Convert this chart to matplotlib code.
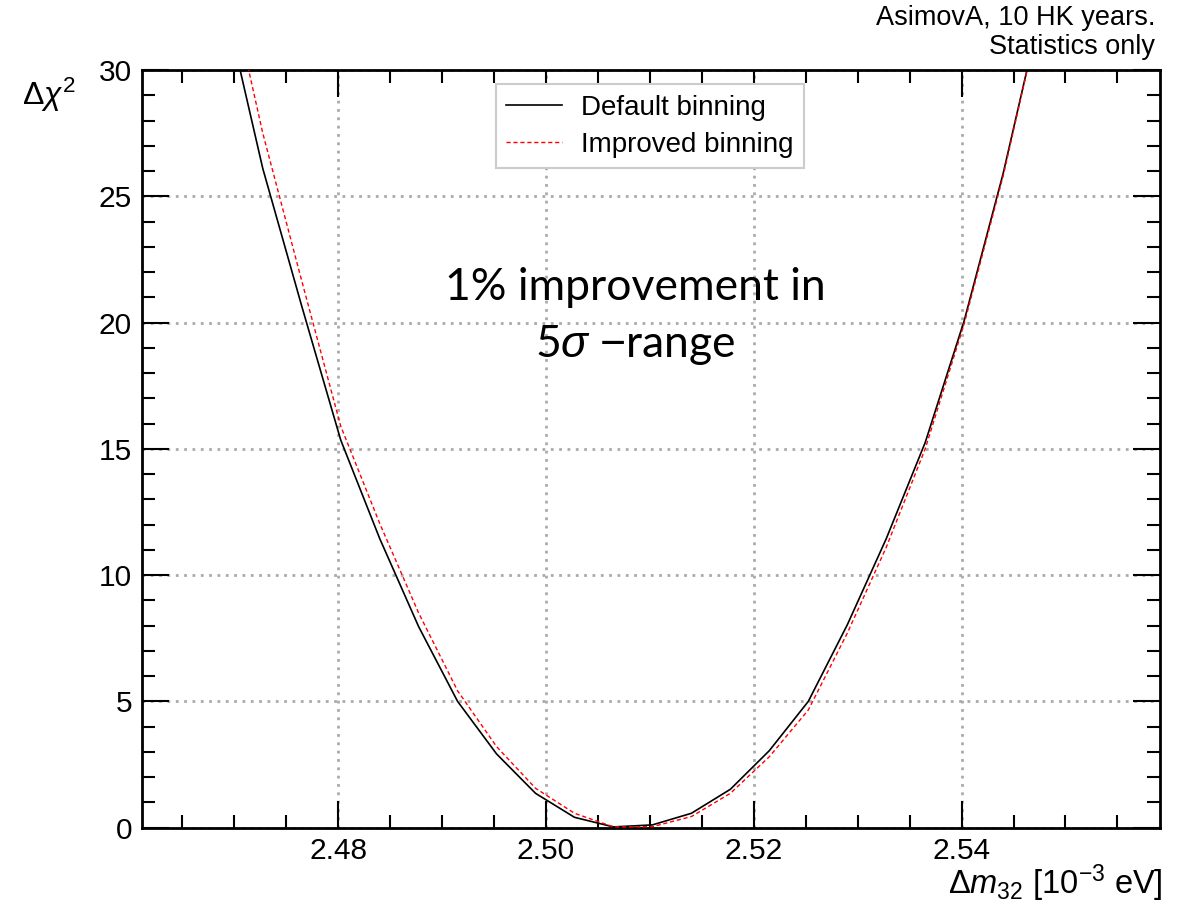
import matplotlib
matplotlib.use("Agg")
import matplotlib.pyplot as plt
from matplotlib.ticker import MultipleLocator

plt.rcParams["font.family"] = ["Liberation Sans", "DejaVu Sans"]
plt.rcParams["mathtext.fontset"] = "custom"
plt.rcParams["mathtext.rm"] = "Liberation Sans"
plt.rcParams["mathtext.it"] = "Liberation Sans:italic"

# scan points in dm32 [1e-3 eV]
dm32 = [2.46900, 2.47275, 2.47650, 2.48025, 2.48400, 2.48775, 2.49150,
        2.49525, 2.49900, 2.50275, 2.50650, 2.51025, 2.51400, 2.51775,
        2.52150, 2.52525, 2.52900, 2.53275, 2.53650, 2.54025, 2.54400,
        2.54775]

# delta chi2 for each binning
chi2_default = [32.8, 26.1, 20.65, 15.35, 11.45, 7.96, 5.0, 2.92, 1.36, 0.41,
                0.03, 0.11, 0.57, 1.52, 3.05, 5.0, 8.03, 11.44, 15.25, 20.07,
                25.9, 32.6]
chi2_improved = [34.4, 27.5, 21.65, 15.9, 12.05, 8.5, 5.42, 3.21, 1.56, 0.57,
                 0.03, 0.04, 0.44, 1.36, 2.81, 4.66, 7.7, 11.1, 15.0, 19.95,
                 25.8, 32.6]

x_ticks = [2.48, 2.50, 2.52, 2.54]
x_ticklabels = ["2.48", "2.50", "2.52", "2.54"]


def make_axes():
    fig = plt.figure(figsize=(11.99, 9.02), dpi=100)
    ax = fig.add_axes([0.1182, 0.0824, 0.8493, 0.8400])
    ax.set_xlim(2.4611, 2.5591)
    ax.set_ylim(0, 30)

    ax.set_xticks(x_ticks)
    ax.set_xticklabels(x_ticklabels)
    ax.xaxis.set_minor_locator(MultipleLocator(0.005))
    ax.yaxis.set_major_locator(MultipleLocator(5))
    ax.yaxis.set_minor_locator(MultipleLocator(1))

    ax.tick_params(which="both", direction="in", top=True, right=True,
                   labelsize=21.5, pad=7, width=1.5)
    ax.tick_params(which="major", length=19.5)
    ax.tick_params(which="minor", length=9.5)
    for s in ax.spines.values():
        s.set_linewidth(2.0)

    ax.grid(True, which="major", color="#aaaaaa", linestyle=(0, (1, 2)),
            linewidth=2.0, zorder=0)
    return fig, ax


def draw_curves(fig, ax):
    ax.plot(dm32, chi2_default, color="black", lw=1.2, label="Default binning",
            zorder=3)
    ax.plot(dm32, chi2_improved, color="red", lw=1.0, linestyle=(0, (3, 2)),
            label="Improved binning", zorder=4)

    leg = ax.legend(loc="upper left", bbox_to_anchor=(495.7 / 1199, 1 - 84 / 902),
                    bbox_transform=fig.transFigure, fontsize=20,
                    fancybox=False, framealpha=1, edgecolor="#cccccc",
                    handlelength=2.0, handletextpad=0.7, labelspacing=0.4,
                    borderpad=0.38, borderaxespad=0)
    leg.get_frame().set_linewidth(1.5)


def add_text(fig):
    fig.text(0.018, 1 - 95 / 902, r"$\Delta\chi^{2}$", fontsize=23,
             ha="left", va="center")
    fig.text(1163 / 1199, 1 - 883 / 902, r"$\Delta m_{32}$ [10$^{-3}$ eV]",
             fontsize=23.5, ha="right", va="center")
    fig.text(1155 / 1199, 1 - 18 / 902, "AsimovA, 10 HK years.",
             fontsize=19.5, ha="right", va="center")
    fig.text(1155 / 1199, 1 - 47 / 902, "Statistics only",
             fontsize=19.5, ha="right", va="center")

    fig.text(635 / 1199, 1 - 287 / 902, "1% improvement in", fontsize=32,
             family="Lato", ha="center", va="center")
    fig.text(635 / 1199, 1 - 345 / 902, r"5$\sigma$ $-$range", fontsize=32,
             family="Lato", ha="center", va="center")


def main():
    fig, ax = make_axes()
    draw_curves(fig, ax)
    add_text(fig)
    fig.savefig("out.png", dpi=100)
    print("saved out.png")


if __name__ == "__main__":
    main()
